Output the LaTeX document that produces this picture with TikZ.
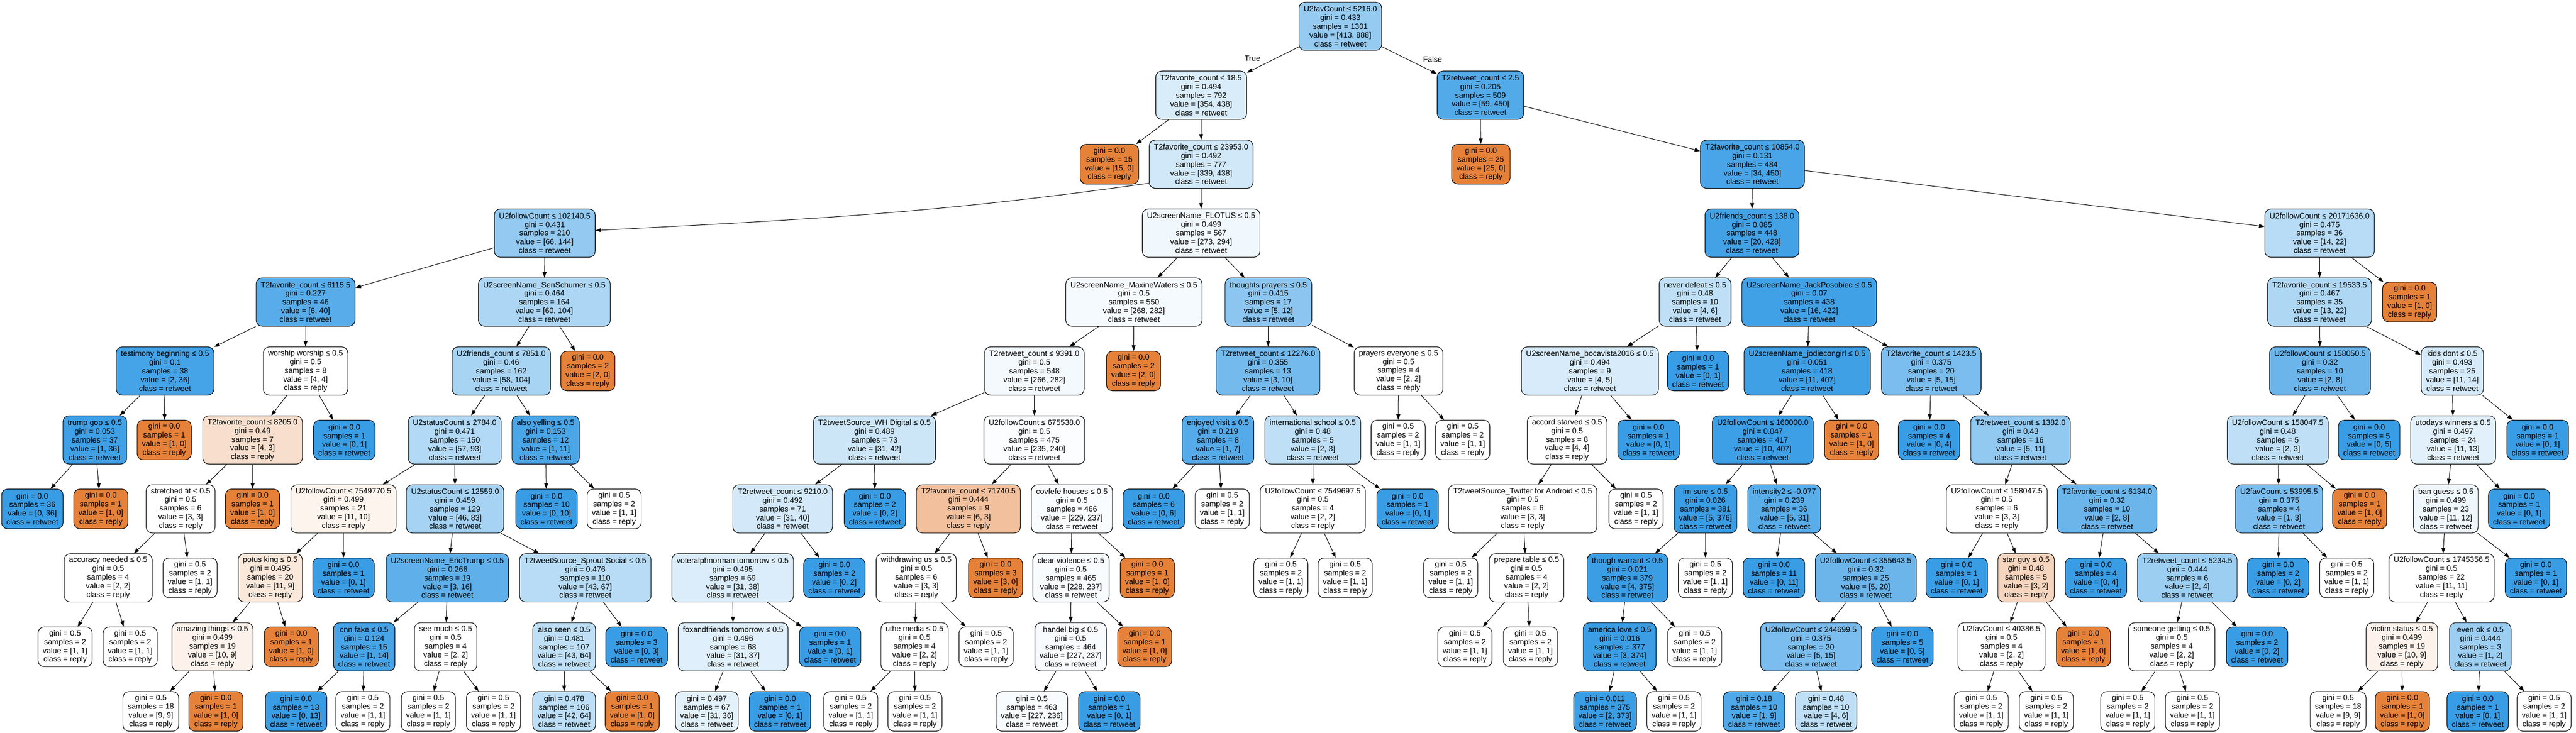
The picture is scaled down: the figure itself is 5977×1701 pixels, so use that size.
\documentclass[tikz,border=0pt]{standalone}
\usepackage{fontspec}
\setmainfont{Liberation Sans}
\usetikzlibrary{arrows.meta}
\definecolor{reply}{RGB}{229, 129, 57}
\definecolor{retweet}{RGB}{57, 157, 229}
\tikzset{
  treebox/.style={draw, line width=1.3pt, rounded corners=14pt, align=center,
                  inner xsep=11pt, inner ysep=0pt, font=\fontsize{18pt}{20.2pt}\selectfont},
  splitbox/.style={treebox, minimum height=112pt},
  leafbox/.style={treebox, minimum height=92pt},
  counts/.code 2 args={%
    \pgfmathtruncatemacro\countpct{round(100*(abs(#1-#2)/max(#1,#2)))}%
    \ifnum#1<#2\relax
      \edef\countfill{retweet!\countpct!white}%
    \else
      \edef\countfill{reply!\countpct!white}%
    \fi
    \pgfkeysalso{fill/.expanded=\countfill}},
  branch/.style={line width=1.2pt, -{Triangle[length=13pt, width=9pt]}},
  sidetext/.style={font=\fontsize{18pt}{20.2pt}\selectfont, inner sep=0pt}
}
\begin{document}
\begin{tikzpicture}[x=1pt, y=-1pt]
\useasboundingbox (0,0) rectangle (5977,1701);

\node[splitbox, counts={413}{888}] (n0)   at (3110,  61) {U2favCount ≤ 5216.0\\gini = 0.433\\samples = 1301\\value = [413, 888]\\class = retweet};
\node[splitbox, counts={354}{438}] (n1)   at (2787, 221) {T2favorite\_count ≤ 18.5\\gini = 0.494\\samples = 792\\value = [354, 438]\\class = retweet};
\node[leafbox,  counts={15}{0}]    (n2)   at (2574, 381) {gini = 0.0\\samples = 15\\value = [15, 0]\\class = reply};
\node[splitbox, counts={339}{438}] (n3)   at (2787, 381) {T2favorite\_count ≤ 23953.0\\gini = 0.492\\samples = 777\\value = [339, 438]\\class = retweet};
\node[splitbox, counts={66}{144}]  (n4)   at (1264, 541) {U2followCount ≤ 102140.5\\gini = 0.431\\samples = 210\\value = [66, 144]\\class = retweet};
\node[splitbox, counts={6}{40}]    (n5)   at ( 709, 701) {T2favorite\_count ≤ 6115.5\\gini = 0.227\\samples = 46\\value = [6, 40]\\class = retweet};
\node[splitbox, counts={2}{36}]    (n6)   at ( 383, 861) {testimony beginning ≤ 0.5\\gini = 0.1\\samples = 38\\value = [2, 36]\\class = retweet};
\node[splitbox, counts={1}{36}]    (n7)   at ( 220,1021) {trump gop ≤ 0.5\\gini = 0.053\\samples = 37\\value = [1, 36]\\class = retweet};
\node[leafbox,  counts={0}{36}]    (n8)   at (  75,1181) {gini = 0.0\\samples = 36\\value = [0, 36]\\class = retweet};
\node[leafbox,  counts={1}{0}]     (n9)   at ( 234,1181) {gini = 0.0\\samples = 1\\value = [1, 0]\\class = reply};
\node[leafbox,  counts={1}{0}]     (n10)  at ( 381,1021) {gini = 0.0\\samples = 1\\value = [1, 0]\\class = reply};
\node[splitbox, counts={4}{4}]     (n11)  at ( 709, 861) {worship worship ≤ 0.5\\gini = 0.5\\samples = 8\\value = [4, 4]\\class = reply};
\node[splitbox, counts={4}{3}]     (n12)  at ( 586,1021) {T2favorite\_count ≤ 8205.0\\gini = 0.49\\samples = 7\\value = [4, 3]\\class = reply};
\node[splitbox, counts={3}{3}]     (n13)  at ( 419,1181) {stretched fit ≤ 0.5\\gini = 0.5\\samples = 6\\value = [3, 3]\\class = reply};
\node[splitbox, counts={2}{2}]     (n14)  at ( 251,1341) {accuracy needed ≤ 0.5\\gini = 0.5\\samples = 4\\value = [2, 2]\\class = reply};
\node[leafbox,  counts={1}{0}]     (n18)  at ( 586,1181) {gini = 0.0\\samples = 1\\value = [1, 0]\\class = reply};
\node[leafbox,  counts={0}{1}]     (n19)  at ( 799,1021) {gini = 0.0\\samples = 1\\value = [0, 1]\\class = retweet};
\node[splitbox, counts={60}{104}]  (n20)  at (1263, 701) {U2screenName\_SenSchumer ≤ 0.5\\gini = 0.464\\samples = 164\\value = [60, 104]\\class = retweet};
\node[splitbox, counts={58}{104}]  (n21)  at (1163, 861) {U2friends\_count ≤ 7851.0\\gini = 0.46\\samples = 162\\value = [58, 104]\\class = retweet};
\node[splitbox, counts={57}{93}]   (n22)  at (1055,1021) {U2statusCount ≤ 2784.0\\gini = 0.471\\samples = 150\\value = [57, 93]\\class = retweet};
\node[splitbox, counts={11}{10}]   (n23)  at ( 797,1181) {U2followCount ≤ 7549770.5\\gini = 0.499\\samples = 21\\value = [11, 10]\\class = reply};
\node[splitbox, counts={11}{9}]    (n24)  at ( 627,1341) {potus king ≤ 0.5\\gini = 0.495\\samples = 20\\value = [11, 9]\\class = reply};
\node[splitbox, counts={10}{9}]    (n25)  at ( 493,1501) {amazing things ≤ 0.5\\gini = 0.499\\samples = 19\\value = [10, 9]\\class = reply};
\node[leafbox,  counts={9}{9}]     (n26)  at ( 350,1651) {gini = 0.5\\samples = 18\\value = [9, 9]\\class = reply};
\node[leafbox,  counts={1}{0}]     (n27)  at ( 501,1651) {gini = 0.0\\samples = 1\\value = [1, 0]\\class = reply};
\node[leafbox,  counts={1}{0}]     (n28)  at ( 676,1501) {gini = 0.0\\samples = 1\\value = [1, 0]\\class = reply};
\node[leafbox,  counts={0}{1}]     (n29)  at ( 797,1341) {gini = 0.0\\samples = 1\\value = [0, 1]\\class = retweet};
\node[splitbox, counts={46}{83}]   (n30)  at (1056,1181) {U2statusCount ≤ 12559.0\\gini = 0.459\\samples = 129\\value = [46, 83]\\class = retweet};
\node[splitbox, counts={3}{16}]    (n31)  at (1038,1341) {U2screenName\_EricTrump ≤ 0.5\\gini = 0.266\\samples = 19\\value = [3, 16]\\class = retweet};
\node[splitbox, counts={1}{14}]    (n32)  at ( 845,1501) {cnn fake ≤ 0.5\\gini = 0.124\\samples = 15\\value = [1, 14]\\class = retweet};
\node[leafbox,  counts={0}{13}]    (n33)  at ( 687,1651) {gini = 0.0\\samples = 13\\value = [0, 13]\\class = retweet};
\node[splitbox, counts={2}{2}]     (n35)  at (1034,1501) {see much ≤ 0.5\\gini = 0.5\\samples = 4\\value = [2, 2]\\class = reply};
\node[splitbox, counts={43}{67}]   (n38)  at (1358,1341) {T2tweetSource\_Sprout Social ≤ 0.5\\gini = 0.476\\samples = 110\\value = [43, 67]\\class = retweet};
\node[splitbox, counts={43}{64}]   (n39)  at (1309,1501) {also seen ≤ 0.5\\gini = 0.481\\samples = 107\\value = [43, 64]\\class = retweet};
\node[leafbox,  counts={42}{64}]   (n40)  at (1309,1651) {gini = 0.478\\samples = 106\\value = [42, 64]\\class = retweet};
\node[leafbox,  counts={1}{0}]     (n41)  at (1467,1651) {gini = 0.0\\samples = 1\\value = [1, 0]\\class = reply};
\node[leafbox,  counts={0}{3}]     (n42)  at (1477,1501) {gini = 0.0\\samples = 3\\value = [0, 3]\\class = retweet};
\node[splitbox, counts={1}{11}]    (n43)  at (1266,1021) {also yelling ≤ 0.5\\gini = 0.153\\samples = 12\\value = [1, 11]\\class = retweet};
\node[leafbox,  counts={0}{10}]    (n44)  at (1268,1181) {gini = 0.0\\samples = 10\\value = [0, 10]\\class = retweet};
\node[leafbox,  counts={2}{0}]     (n46)  at (1364, 861) {gini = 0.0\\samples = 2\\value = [2, 0]\\class = reply};
\node[splitbox, counts={273}{294}] (n47)  at (2787, 541) {U2screenName\_FLOTUS ≤ 0.5\\gini = 0.499\\samples = 567\\value = [273, 294]\\class = retweet};
\node[splitbox, counts={268}{282}] (n48)  at (2631, 701) {U2screenName\_MaxineWaters ≤ 0.5\\gini = 0.5\\samples = 550\\value = [268, 282]\\class = retweet};
\node[splitbox, counts={266}{282}] (n49)  at (2400, 861) {T2retweet\_count ≤ 9391.0\\gini = 0.5\\samples = 548\\value = [266, 282]\\class = retweet};
\node[splitbox, counts={31}{42}]   (n50)  at (2029,1021) {T2tweetSource\_WH Digital ≤ 0.5\\gini = 0.489\\samples = 73\\value = [31, 42]\\class = retweet};
\node[splitbox, counts={31}{40}]   (n51)  at (1816,1181) {T2retweet\_count ≤ 9210.0\\gini = 0.492\\samples = 71\\value = [31, 40]\\class = retweet};
\node[splitbox, counts={31}{38}]   (n52)  at (1700,1341) {voteralphnorman tomorrow ≤ 0.5\\gini = 0.495\\samples = 69\\value = [31, 38]\\class = retweet};
\node[splitbox, counts={31}{37}]   (n53)  at (1701,1501) {foxandfriends tomorrow ≤ 0.5\\gini = 0.496\\samples = 68\\value = [31, 37]\\class = retweet};
\node[leafbox,  counts={31}{36}]   (n54)  at (1640,1651) {gini = 0.497\\samples = 67\\value = [31, 36]\\class = retweet};
\node[leafbox,  counts={0}{1}]     (n55)  at (1810,1651) {gini = 0.0\\samples = 1\\value = [0, 1]\\class = retweet};
\node[leafbox,  counts={0}{1}]     (n56)  at (1926,1501) {gini = 0.0\\samples = 1\\value = [0, 1]\\class = retweet};
\node[leafbox,  counts={0}{2}]     (n57)  at (1936,1341) {gini = 0.0\\samples = 2\\value = [0, 2]\\class = retweet};
\node[leafbox,  counts={0}{2}]     (n58)  at (2030,1181) {gini = 0.0\\samples = 2\\value = [0, 2]\\class = retweet};
\node[splitbox, counts={235}{240}] (n59)  at (2400,1021) {U2followCount ≤ 675538.0\\gini = 0.5\\samples = 475\\value = [235, 240]\\class = retweet};
\node[splitbox, counts={6}{3}]     (n60)  at (2247,1181) {T2favorite\_count ≤ 71740.5\\gini = 0.444\\samples = 9\\value = [6, 3]\\class = reply};
\node[splitbox, counts={3}{3}]     (n61)  at (2126,1341) {withdrawing us ≤ 0.5\\gini = 0.5\\samples = 6\\value = [3, 3]\\class = reply};
\node[splitbox, counts={2}{2}]     (n62)  at (2122,1501) {uthe media ≤ 0.5\\gini = 0.5\\samples = 4\\value = [2, 2]\\class = reply};
\node[leafbox,  counts={3}{0}]     (n66)  at (2310,1341) {gini = 0.0\\samples = 3\\value = [3, 0]\\class = reply};
\node[splitbox, counts={229}{237}] (n67)  at (2487,1181) {covfefe houses ≤ 0.5\\gini = 0.5\\samples = 466\\value = [229, 237]\\class = retweet};
\node[splitbox, counts={228}{237}] (n68)  at (2485,1341) {clear violence ≤ 0.5\\gini = 0.5\\samples = 465\\value = [228, 237]\\class = retweet};
\node[splitbox, counts={227}{237}] (n69)  at (2484,1501) {handel big ≤ 0.5\\gini = 0.5\\samples = 464\\value = [227, 237]\\class = retweet};
\node[leafbox,  counts={227}{236}] (n70)  at (2394,1651) {gini = 0.5\\samples = 463\\value = [227, 236]\\class = retweet};
\node[leafbox,  counts={0}{1}]     (n71)  at (2574,1651) {gini = 0.0\\samples = 1\\value = [0, 1]\\class = retweet};
\node[leafbox,  counts={1}{0}]     (n72)  at (2656,1501) {gini = 0.0\\samples = 1\\value = [1, 0]\\class = reply};
\node[leafbox,  counts={1}{0}]     (n73)  at (2662,1341) {gini = 0.0\\samples = 1\\value = [1, 0]\\class = reply};
\node[leafbox,  counts={2}{0}]     (n74)  at (2630, 861) {gini = 0.0\\samples = 2\\value = [2, 0]\\class = reply};
\node[splitbox, counts={5}{12}]    (n75)  at (2943, 701) {thoughts prayers ≤ 0.5\\gini = 0.415\\samples = 17\\value = [5, 12]\\class = retweet};
\node[splitbox, counts={3}{10}]    (n76)  at (2942, 861) {T2retweet\_count ≤ 12276.0\\gini = 0.355\\samples = 13\\value = [3, 10]\\class = retweet};
\node[splitbox, counts={1}{7}]     (n77)  at (2826,1021) {enjoyed visit ≤ 0.5\\gini = 0.219\\samples = 8\\value = [1, 7]\\class = retweet};
\node[leafbox,  counts={0}{6}]     (n78)  at (2677,1181) {gini = 0.0\\samples = 6\\value = [0, 6]\\class = retweet};
\node[splitbox, counts={2}{3}]     (n80)  at (3046,1021) {international school ≤ 0.5\\gini = 0.48\\samples = 5\\value = [2, 3]\\class = retweet};
\node[splitbox, counts={2}{2}]     (n81)  at (3046,1181) {U2followCount ≤ 7549697.5\\gini = 0.5\\samples = 4\\value = [2, 2]\\class = reply};
\node[leafbox,  counts={0}{1}]     (n84)  at (3266,1181) {gini = 0.0\\samples = 1\\value = [0, 1]\\class = retweet};
\node[splitbox, counts={2}{2}]     (n85)  at (3245, 861) {prayers everyone ≤ 0.5\\gini = 0.5\\samples = 4\\value = [2, 2]\\class = reply};
\node[splitbox, counts={59}{450}]  (n88)  at (3435, 221) {T2retweet\_count ≤ 2.5\\gini = 0.205\\samples = 509\\value = [59, 450]\\class = retweet};
\node[leafbox,  counts={25}{0}]    (n89)  at (3436, 381) {gini = 0.0\\samples = 25\\value = [25, 0]\\class = reply};
\node[splitbox, counts={34}{450}]  (n90)  at (4066, 381) {T2favorite\_count ≤ 10854.0\\gini = 0.131\\samples = 484\\value = [34, 450]\\class = retweet};
\node[splitbox, counts={20}{428}]  (n91)  at (4065, 541) {U2friends\_count ≤ 138.0\\gini = 0.085\\samples = 448\\value = [20, 428]\\class = retweet};
\node[splitbox, counts={4}{6}]     (n92)  at (3933, 701) {never defeat ≤ 0.5\\gini = 0.48\\samples = 10\\value = [4, 6]\\class = retweet};
\node[splitbox, counts={4}{5}]     (n93)  at (3689, 861) {U2screenName\_bocavista2016 ≤ 0.5\\gini = 0.494\\samples = 9\\value = [4, 5]\\class = retweet};
\node[splitbox, counts={4}{4}]     (n94)  at (3636,1021) {accord starved ≤ 0.5\\gini = 0.5\\samples = 8\\value = [4, 4]\\class = reply};
\node[splitbox, counts={3}{3}]     (n95)  at (3533,1181) {T2tweetSource\_Twitter for Android ≤ 0.5\\gini = 0.5\\samples = 6\\value = [3, 3]\\class = reply};
\node[splitbox, counts={2}{2}]     (n97)  at (3542,1341) {prepare table ≤ 0.5\\gini = 0.5\\samples = 4\\value = [2, 2]\\class = reply};
\node[leafbox,  counts={0}{1}]     (n101) at (3825,1021) {gini = 0.0\\samples = 1\\value = [0, 1]\\class = retweet};
\node[leafbox,  counts={0}{1}]     (n102) at (3940, 861) {gini = 0.0\\samples = 1\\value = [0, 1]\\class = retweet};
\node[splitbox, counts={16}{422}]  (n103) at (4198, 701) {U2screenName\_JackPosobiec ≤ 0.5\\gini = 0.07\\samples = 438\\value = [16, 422]\\class = retweet};
\node[splitbox, counts={11}{407}]  (n104) at (4193, 861) {U2screenName\_jodiecongirl ≤ 0.5\\gini = 0.051\\samples = 418\\value = [11, 407]\\class = retweet};
\node[splitbox, counts={10}{407}]  (n105) at (4090,1021) {U2followCount ≤ 160000.0\\gini = 0.047\\samples = 417\\value = [10, 407]\\class = retweet};
\node[splitbox, counts={5}{376}]   (n106) at (3957,1181) {im sure ≤ 0.5\\gini = 0.026\\samples = 381\\value = [5, 376]\\class = retweet};
\node[splitbox, counts={4}{375}]   (n107) at (3776,1341) {though warrant ≤ 0.5\\gini = 0.021\\samples = 379\\value = [4, 375]\\class = retweet};
\node[splitbox, counts={3}{374}]   (n108) at (3758,1501) {america love ≤ 0.5\\gini = 0.016\\samples = 377\\value = [3, 374]\\class = retweet};
\node[leafbox,  counts={2}{373}]   (n109) at (3724,1651) {gini = 0.011\\samples = 375\\value = [2, 373]\\class = retweet};
\node[splitbox, counts={5}{31}]    (n113) at (4140,1181) {intensity2 ≤ -0.077\\gini = 0.239\\samples = 36\\value = [5, 31]\\class = retweet};
\node[leafbox,  counts={0}{11}]    (n114) at (4116,1341) {gini = 0.0\\samples = 11\\value = [0, 11]\\class = retweet};
\node[splitbox, counts={5}{20}]    (n115) at (4329,1341) {U2followCount ≤ 355643.5\\gini = 0.32\\samples = 25\\value = [5, 20]\\class = retweet};
\node[splitbox, counts={5}{15}]    (n116) at (4202,1501) {U2followCount ≤ 244699.5\\gini = 0.375\\samples = 20\\value = [5, 15]\\class = retweet};
\node[leafbox,  counts={1}{9}]     (n117) at (4070,1651) {gini = 0.18\\samples = 10\\value = [1, 9]\\class = retweet};
\node[leafbox,  counts={4}{6}]     (n118) at (4237,1651) {gini = 0.48\\samples = 10\\value = [4, 6]\\class = retweet};
\node[leafbox,  counts={0}{5}]     (n119) at (4414,1501) {gini = 0.0\\samples = 5\\value = [0, 5]\\class = retweet};
\node[leafbox,  counts={1}{0}]     (n120) at (4296,1021) {gini = 0.0\\samples = 1\\value = [1, 0]\\class = reply};
\node[splitbox, counts={5}{15}]    (n121) at (4481, 861) {T2favorite\_count ≤ 1423.5\\gini = 0.375\\samples = 20\\value = [5, 15]\\class = retweet};
\node[leafbox,  counts={0}{4}]     (n122) at (4476,1021) {gini = 0.0\\samples = 4\\value = [0, 4]\\class = retweet};
\node[splitbox, counts={5}{11}]    (n123) at (4688,1021) {T2retweet\_count ≤ 1382.0\\gini = 0.43\\samples = 16\\value = [5, 11]\\class = retweet};
\node[splitbox, counts={3}{3}]     (n124) at (4633,1181) {U2followCount ≤ 158047.5\\gini = 0.5\\samples = 6\\value = [3, 3]\\class = reply};
\node[leafbox,  counts={0}{1}]     (n125) at (4540,1341) {gini = 0.0\\samples = 1\\value = [0, 1]\\class = retweet};
\node[splitbox, counts={3}{2}]     (n126) at (4701,1341) {star guy ≤ 0.5\\gini = 0.48\\samples = 5\\value = [3, 2]\\class = reply};
\node[splitbox, counts={2}{2}]     (n127) at (4644,1501) {U2favCount ≤ 40386.5\\gini = 0.5\\samples = 4\\value = [2, 2]\\class = reply};
\node[leafbox,  counts={1}{0}]     (n130) at (4834,1501) {gini = 0.0\\samples = 1\\value = [1, 0]\\class = reply};
\node[splitbox, counts={2}{8}]     (n131) at (4889,1181) {T2favorite\_count ≤ 6134.0\\gini = 0.32\\samples = 10\\value = [2, 8]\\class = retweet};
\node[leafbox,  counts={0}{4}]     (n132) at (4863,1341) {gini = 0.0\\samples = 4\\value = [0, 4]\\class = retweet};
\node[splitbox, counts={2}{4}]     (n133) at (5075,1341) {T2retweet\_count ≤ 5234.5\\gini = 0.444\\samples = 6\\value = [2, 4]\\class = retweet};
\node[splitbox, counts={2}{2}]     (n134) at (5039,1501) {someone getting ≤ 0.5\\gini = 0.5\\samples = 4\\value = [2, 2]\\class = reply};
\node[leafbox,  counts={0}{2}]     (n137) at (5237,1501) {gini = 0.0\\samples = 2\\value = [0, 2]\\class = retweet};
\node[splitbox, counts={14}{22}]   (n138) at (5382, 541) {U2followCount ≤ 20171636.0\\gini = 0.475\\samples = 36\\value = [14, 22]\\class = retweet};
\node[splitbox, counts={13}{22}]   (n139) at (5382, 701) {T2favorite\_count ≤ 19533.5\\gini = 0.467\\samples = 35\\value = [13, 22]\\class = retweet};
\node[splitbox, counts={2}{8}]     (n140) at (5383, 861) {U2followCount ≤ 158050.5\\gini = 0.32\\samples = 10\\value = [2, 8]\\class = retweet};
\node[splitbox, counts={2}{3}]     (n141) at (5285,1021) {U2followCount ≤ 158047.5\\gini = 0.48\\samples = 5\\value = [2, 3]\\class = retweet};
\node[splitbox, counts={1}{3}]     (n142) at (5288,1181) {U2favCount ≤ 53995.5\\gini = 0.375\\samples = 4\\value = [1, 3]\\class = retweet};
\node[leafbox,  counts={0}{2}]     (n143) at (5286,1341) {gini = 0.0\\samples = 2\\value = [0, 2]\\class = retweet};
\node[leafbox,  counts={1}{0}]     (n145) at (5475,1181) {gini = 0.0\\samples = 1\\value = [1, 0]\\class = reply};
\node[leafbox,  counts={0}{5}]     (n146) at (5497,1021) {gini = 0.0\\samples = 5\\value = [0, 5]\\class = retweet};
\node[splitbox, counts={11}{14}]   (n147) at (5690, 861) {kids dont ≤ 0.5\\gini = 0.493\\samples = 25\\value = [11, 14]\\class = retweet};
\node[splitbox, counts={11}{13}]   (n148) at (5692,1021) {utodays winners ≤ 0.5\\gini = 0.497\\samples = 24\\value = [11, 13]\\class = retweet};
\node[splitbox, counts={11}{12}]   (n149) at (5675,1181) {ban guess ≤ 0.5\\gini = 0.499\\samples = 23\\value = [11, 12]\\class = retweet};
\node[splitbox, counts={11}{11}]   (n150) at (5665,1341) {U2followCount ≤ 1745356.5\\gini = 0.5\\samples = 22\\value = [11, 11]\\class = reply};
\node[splitbox, counts={10}{9}]    (n151) at (5573,1501) {victim status ≤ 0.5\\gini = 0.499\\samples = 19\\value = [10, 9]\\class = reply};
\node[leafbox,  counts={9}{9}]     (n152) at (5425,1651) {gini = 0.5\\samples = 18\\value = [9, 9]\\class = reply};
\node[leafbox,  counts={1}{0}]     (n153) at (5574,1651) {gini = 0.0\\samples = 1\\value = [1, 0]\\class = reply};
\node[splitbox, counts={1}{2}]     (n154) at (5755,1501) {even ok ≤ 0.5\\gini = 0.444\\samples = 3\\value = [1, 2]\\class = retweet};
\node[leafbox,  counts={0}{1}]     (n155) at (5749,1651) {gini = 0.0\\samples = 1\\value = [0, 1]\\class = retweet};
\node[leafbox,  counts={0}{1}]     (n157) at (5884,1341) {gini = 0.0\\samples = 1\\value = [0, 1]\\class = retweet};
\node[leafbox,  counts={0}{1}]     (n158) at (5845,1181) {gini = 0.0\\samples = 1\\value = [0, 1]\\class = retweet};
\node[leafbox,  counts={0}{1}]     (n159) at (5888,1021) {gini = 0.0\\samples = 1\\value = [0, 1]\\class = retweet};
\node[leafbox,  counts={1}{0}]     (n160) at (5591, 701) {gini = 0.0\\samples = 1\\value = [1, 0]\\class = reply};

\foreach \id/\x/\y in {15/151/1501, 16/302/1501, 17/441/1341, 34/842/1651, 36/994/1651, 37/1145/1651,
                       45/1425/1181, 63/1974/1651, 64/2123/1651, 65/2288/1501, 79/2836/1181, 82/2972/1341,
                       83/3121/1341, 86/3244/1021, 87/3394/1021, 96/3366/1341, 98/3399/1501, 99/3551/1501,
                       100/3796/1181, 110/3884/1651, 111/3932/1501, 112/3957/1341, 128/4597/1651,
                       129/4748/1651, 135/4937/1651, 136/5087/1651, 144/5445/1341, 156/5903/1651}
  \node[leafbox, counts={1}{1}] (n\id) at (\x,\y) {gini = 0.5\\samples = 2\\value = [1, 1]\\class = reply};

\foreach \p/\c in {0/1, 0/88, 1/2, 1/3, 3/47, 4/5, 4/20, 5/6, 5/11, 6/7, 6/10, 7/8, 7/9, 11/12, 11/19,
                   12/13, 12/18, 13/14, 13/17, 14/15, 14/16, 20/21, 20/46, 21/22, 21/43, 22/23, 22/30,
                   23/24, 23/29, 24/25, 24/28, 25/26, 25/27, 30/31, 30/38, 31/32, 31/35, 32/33, 32/34,
                   35/36, 35/37, 38/39, 38/42, 39/40, 39/41, 43/44, 43/45, 47/48, 47/75, 48/49, 48/74,
                   49/50, 49/59, 50/51, 50/58, 51/52, 51/57, 52/53, 52/56, 53/54, 53/55, 59/60, 59/67,
                   60/61, 60/66, 61/62, 61/65, 62/63, 62/64, 67/68, 67/73, 68/69, 68/72, 69/70, 69/71,
                   75/76, 75/85, 76/77, 76/80, 77/78, 77/79, 80/81, 80/84, 81/82, 81/83, 85/86, 85/87,
                   88/89, 88/90, 90/91, 90/138, 91/92, 91/103, 92/93, 92/102, 93/94, 93/101, 94/95,
                   94/100, 95/96, 95/97, 97/98, 97/99, 103/104, 103/121, 104/105, 104/120, 105/106,
                   105/113, 106/107, 106/112, 107/108, 107/111, 108/109, 108/110, 113/114, 113/115,
                   115/116, 115/119, 116/117, 116/118, 121/122, 121/123, 123/124, 123/131, 124/125,
                   124/126, 126/127, 126/130, 127/128, 127/129, 131/132, 131/133, 133/134, 133/137,
                   134/135, 134/136, 138/139, 138/160, 139/140, 139/147, 140/141, 140/146, 141/142,
                   141/145, 142/143, 142/144, 147/148, 147/159, 148/149, 148/158, 149/150, 149/157,
                   150/151, 150/154, 151/152, 151/153, 154/155, 154/156}
  \draw[branch] (n\p) -- (n\c);
\draw[branch] (n3.200) .. controls (2172,495) and (1880,509) .. (n4.3);

\node[sidetext] (truelab)  at (2906, 136) {True};
\node[sidetext] (falselab) at (3324, 138) {False};
\end{tikzpicture}
\end{document}
